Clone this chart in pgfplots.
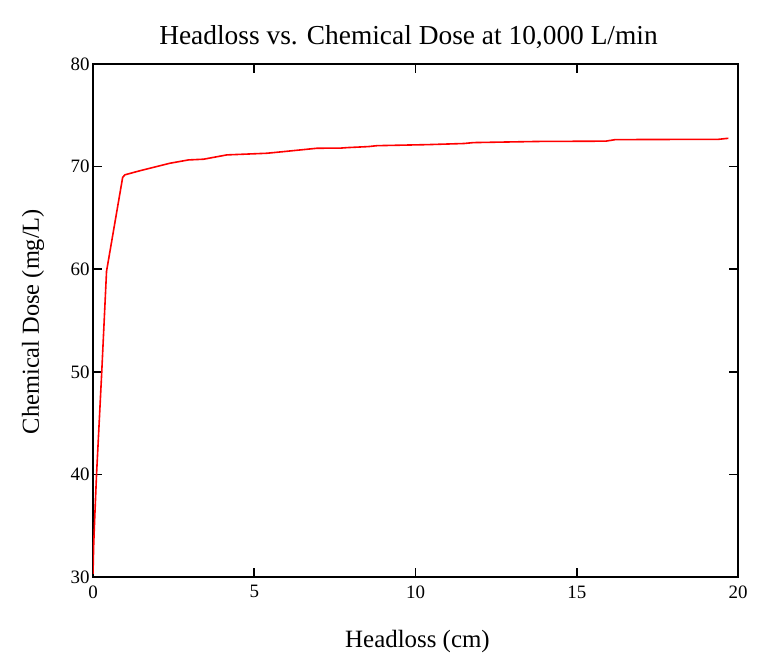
\documentclass[border=0pt]{standalone}
\usepackage{fontspec}
\setmainfont{Liberation Serif}
\usepackage{pgfplots}
\pgfplotsset{compat=1.18}
\begin{document}
\begin{tikzpicture}
\begin{axis}[
  scale only axis,
  width=645bp, height=513bp,
  xmin=0, xmax=20, ymin=30, ymax=80,
  xtick={0,5,10,15,20}, ytick={30,40,50,60,70,80},
  tick align=inside,
  major tick length=9bp,
  axis line style={line width=1.6bp},
  every tick/.style={black, line width=1.6bp},
  tick label style={font=\fontsize{19}{22}\selectfont},
  /pgf/number format/assume math mode=true,
  xticklabel style={yshift=-5bp},
  yticklabel style={xshift=0bp},
]
\addplot[red, line width=1.6bp] coordinates {
(0,30.3) (0.02,33) (0.05,35.5) (0.11,40) (0.27,49.9) (0.42,59.8)
(0.92,68.95) (0.99,69.2) (1.46,69.6) (2.39,70.33) (2.96,70.65) (3.43,70.72)
(4.15,71.14) (5.39,71.3) (5.91,71.46) (6.95,71.79) (7.67,71.8) (7.88,71.85)
(8.54,71.95) (8.81,72.04) (10.36,72.14) (11.5,72.25) (11.8,72.34) (13.78,72.45)
(15.9,72.48) (16.2,72.63) (19.4,72.66) (19.7,72.76)
};
\end{axis}
\node[font=\fontsize{27.5}{31}\selectfont] at ([xshift=-7bp,yshift=27bp]current axis.north) {Headloss vs. Chemical Dose at 10,000 L/min};
\node[font=\fontsize{25}{29}\selectfont] at ([xshift=2bp,yshift=-65bp]current axis.south) {Headloss (cm)};
\node[font=\fontsize{24.5}{28}\selectfont, rotate=90] at ([xshift=-60bp,yshift=-1bp]current axis.west) {Chemical Dose (mg/L)};
\pgfresetboundingbox
\path[use as bounding box] ([shift={(-93bp,-92bp)}]current axis.south west) rectangle ([shift={(32bp,64bp)}]current axis.north east);
\end{tikzpicture}
\end{document}
